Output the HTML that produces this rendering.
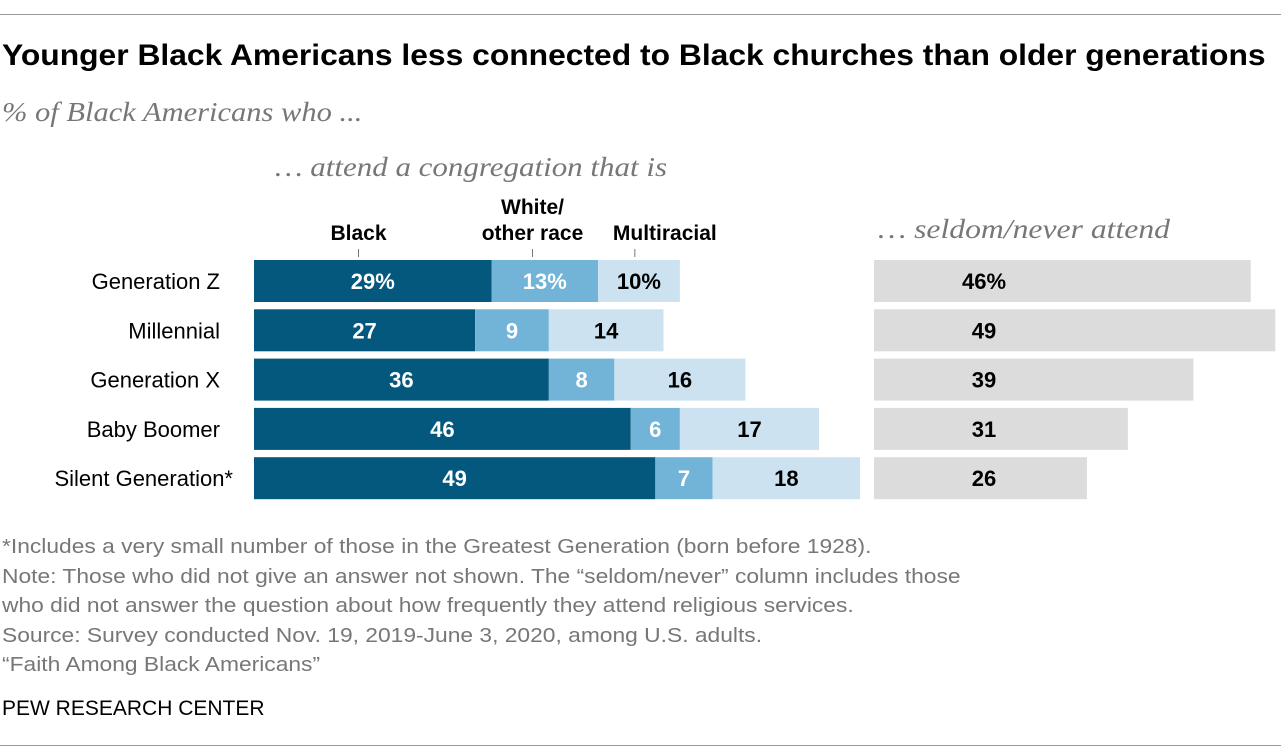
<!DOCTYPE html>
<html><head><meta charset="utf-8"><style>
body{margin:0;width:1281px;height:756px;background:#fff;overflow:hidden;font-family:"Liberation Sans",sans-serif;position:relative}
.t{position:absolute;white-space:nowrap;transform-origin:0 0}
</style></head><body>
<div style="position:absolute;left:0;top:14px;width:1281px;height:1px;background:#999"></div>
<div class="t" style="left:2px;top:39px;font-size:30px;font-weight:bold;color:#000;transform:scaleX(1.06)">Younger Black Americans less connected to Black churches than older generations</div>
<div class="t" style="left:2px;top:97px;font-size:27px;font-style:italic;font-family:'Liberation Serif',serif;color:#777;transform:scaleX(1.13)">% of Black Americans who ...</div>
<div class="t" style="left:2px;top:533px;font-size:20px;color:#777;line-height:29.5px;transform:scaleX(1.14)">*Includes a very small number of those in the Greatest Generation (born before 1928).<br>Note: Those who did not give an answer not shown. The “seldom/never” column includes those<br>who did not answer the question about how frequently they attend religious services.<br>Source: Survey conducted Nov. 19, 2019-June 3, 2020, among U.S. adults.<br>“Faith Among Black Americans”</div>
<div class="t" style="left:2px;top:697px;font-size:21px;color:#000">PEW RESEARCH CENTER</div>
<div style="position:absolute;left:0;top:745px;width:1281px;height:1px;background:#999"></div>
<svg id="c" width="1281" height="756" style="position:absolute;left:0;top:0"></svg>
<script>
const categories=["Generation Z","Millennial","Generation X","Baby Boomer","Silent Generation*"];
const blackVals=[29,27,36,46,49];
const whiteVals=[13,9,8,6,7];
const multiVals=[10,14,16,17,18];
const seldomVals=[46,49,39,31,26];
const NS="http://www.w3.org/2000/svg";
const svg=document.getElementById('c');
const x0=254,x2=874,k=8.19,rowY=r=>260+r*49.3,bh=42;
const xs=v=>v*k;
function el(t,a,txt){const e=document.createElementNS(NS,t);for(const q in a)e.setAttribute(q,a[q]);if(txt!=null)e.textContent=txt;svg.appendChild(e);return e;}
function txt(x,y,s,o){return el('text',Object.assign({x:x,y:y,'font-family':'Liberation Sans, sans-serif','font-size':21,'text-anchor':'middle'},o||{}),s);}
let h=txt(471,176,'… attend a congregation that is',{'font-family':'Liberation Serif, serif','font-style':'italic','font-size':27,fill:'#777',textLength:392,lengthAdjust:'spacingAndGlyphs'});

h=txt(1024,238,'… seldom/never attend',{'font-family':'Liberation Serif, serif','font-style':'italic','font-size':27,fill:'#777',textLength:292,lengthAdjust:'spacingAndGlyphs'});

const bx=x0+xs(blackVals[0])*0.44,wx=x0+xs(blackVals[0])+xs(whiteVals[0])*0.385,mx=x0+xs(blackVals[0]+whiteVals[0])+xs(multiVals[0])*0.45;
[[bx,bx,['Black'],240],[wx,wx,['White/','other race'],214],[mx,mx+30,['Multiracial'],240]].forEach(d=>{
  d[2].forEach((s,j)=>{const t=txt(d[1],d[3]+j*26,s,{'font-weight':'bold'});});
  const l=el('line',{x1:d[0],x2:d[0],y1:249,y2:257,stroke:'#777'});
});
const cols=['#04577d','#72b3d8','#cce2f0'];
categories.forEach((c,r)=>{
  const y=rowY(r),cy=y+bh/2+8;
  const lab=txt(c.endsWith('*')?233:220,cy,c,{'text-anchor':'end','font-size':22});
  let x=x0;
  [blackVals[r],whiteVals[r],multiVals[r]].forEach((v,i)=>{
    const w=xs(v);
    const b=el('rect',{x:x,y:y,width:w,height:bh,fill:cols[i]});
    const t=txt(x+w/2,cy,v+(r==0?'%':''),{'font-weight':'bold','font-size':22,fill:i==2?'#000':'#fff'});
    x+=w;
  });
  const v=seldomVals[r];
  const b=el('rect',{x:x2,y:y,width:xs(v),height:bh,fill:'#dcdcdc'});
  const t=txt(x2+110,cy,v+(r==0?'%':''),{'font-weight':'bold','font-size':22});
});
</script>
</body></html>
